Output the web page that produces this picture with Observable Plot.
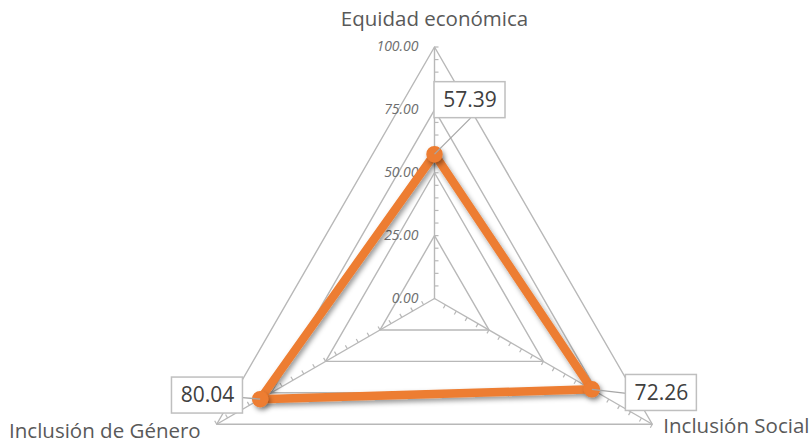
<!DOCTYPE html>
<html><head><meta charset="utf-8">
<script src="https://cdn.jsdelivr.net/npm/d3@7"></script>
<script src="https://cdn.jsdelivr.net/npm/@observablehq/plot@0.6"></script>
<style>html,body{margin:0;padding:0;background:#fff;overflow:hidden}</style>
</head><body><div id="chart"></div>
<script>
// ---- data ----
const categories = ["Equidad económica", "Inclusión Social", "Inclusión de Género"];
const values = [57.39, 72.26, 80.04];
const gridLevels = [0, 25, 50, 75, 100];
const tickLabels = ["0.00", "25.00", "50.00", "75.00", "100.00"];
const minorStep = 5;

// ---- layout (pixels) ----
const W = 812, H = 443;
const cx = 434, cy = 298, k = 2.515;           // centre and px per unit
const angles = [0, 120, 240].map(d => d * Math.PI / 180);
const labelLayout = [                            // category label offsets from spoke ends
  {anchor: "middle", dx: 0, dy: -28},
  {anchor: "start", dx: 11, dy: 2},
  {anchor: "end", dx: -16, dy: 7}
];
const boxLayout = [                              // value box centre offsets, leader ends
  {bx: 35.5, by: -54, lx: 36, ly: -36},
  {bx: 69.5, by: 3.6, lx: 34.6, ly: 4},
  {bx: -52.7, by: -3.6, lx: -17.7, ly: -1.6}
];
const boxW = 71, boxH = 36;

const pt = (v, a) => ({x: v * Math.sin(a), y: v * Math.cos(a)});

const gridData = gridLevels.flatMap(l => [0, 1, 2, 0].map(i => ({level: l, ...pt(l, angles[i])})));
const spokes = angles.map(a => ({x1: 0, y1: 0, x2: pt(100, a).x, y2: pt(100, a).y}));
const ticks = [];
angles.forEach(a => {
  for (let v = minorStep; v <= 100; v += minorStep) {
    const p = pt(v, a);
    ticks.push({x1: p.x, y1: p.y, x2: p.x + Math.cos(a) * 4 / k, y2: p.y - Math.sin(a) * 4 / k});
  }
});
const series = categories.map((c, i) => ({cat: c, value: values[i], ...pt(values[i], angles[i])}));
const catLabels = categories.map((c, i) => ({text: c, ...pt(100, angles[i]), ...labelLayout[i]}));
const boxes = series.map((s, i) => {
  const L = boxLayout[i];
  return {
    text: s.value.toFixed(2), x: s.x, y: s.y,
    cxB: s.x + L.bx / k, cyB: s.y - L.by / k,
    x1: s.x + (L.bx - boxW / 2) / k, x2: s.x + (L.bx + boxW / 2) / k,
    y1: s.y - (L.by - boxH / 2) / k, y2: s.y - (L.by + boxH / 2) / k,
    lx: s.x + L.lx / k, ly: s.y - L.ly / k
  };
});

const gridColor = "#B8B8B8";
const orange = "#ED7D31";
const font = "'Open Sans', sans-serif";

const chart = Plot.plot({
  width: W, height: H,
  margin: 0,
  x: {domain: [-cx / k, (W - cx) / k], range: [0, W], axis: null},
  y: {domain: [-(H - cy) / k, cy / k], range: [H, 0], axis: null},
  style: {fontFamily: font, background: "#fff", overflow: "visible"},
  marks: [
    Plot.line(gridData, {x: "x", y: "y", z: "level", stroke: gridColor, strokeWidth: 1.4}),
    Plot.link(spokes, {x1: "x1", y1: "y1", x2: "x2", y2: "y2", stroke: gridColor, strokeWidth: 1.4}),
    Plot.link(ticks, {x1: "x1", y1: "y1", x2: "x2", y2: "y2", stroke: gridColor, strokeWidth: 1.2}),
    Plot.text(gridLevels, {x: 0, y: d => d, text: (d, i) => tickLabels[i], textAnchor: "end", dx: -16,
      fill: "#6E6E6E", fontSize: 14, fontStyle: "italic"}),
    Plot.line(series, {x: "x", y: "y", curve: "linear-closed", stroke: orange, strokeWidth: 8.5,
      strokeLinejoin: "round", ariaDescription: "series"}),
    Plot.dot(series, {x: "x", y: "y", r: 7.5, fill: orange, stroke: orange, ariaDescription: "series"}),
    Plot.link(boxes, {x1: "x", y1: "y", x2: "lx", y2: "ly", stroke: "#A6A6A6", strokeWidth: 1.3}),
    Plot.rect(boxes, {x1: "x1", x2: "x2", y1: "y1", y2: "y2", fill: "#fff", stroke: "#BFBFBF", strokeWidth: 1.5}),
    Plot.text(boxes, {x: "cxB", y: "cyB", text: "text", fontSize: 21, fill: "#404040"}),
    ...catLabels.map(d => Plot.text([d], {x: "x", y: "y", text: "text", textAnchor: d.anchor,
      dx: d.dx, dy: d.dy, fontSize: 20.5, fill: "#595959"}))
  ]
});

// drop shadow on the series
const svg = d3.select(chart);
const defs = svg.insert("defs", ":first-child");
const f = defs.append("filter").attr("id", "shadow").attr("x", "-20%").attr("y", "-20%")
  .attr("width", "140%").attr("height", "140%");
f.append("feDropShadow").attr("dx", 2).attr("dy", 3).attr("stdDeviation", 2.5)
  .attr("flood-color", "#000").attr("flood-opacity", 0.4);
svg.selectAll('g[aria-description="series"]').attr("filter", "url(#shadow)");

document.getElementById("chart").appendChild(chart);
</script>
</body></html>
